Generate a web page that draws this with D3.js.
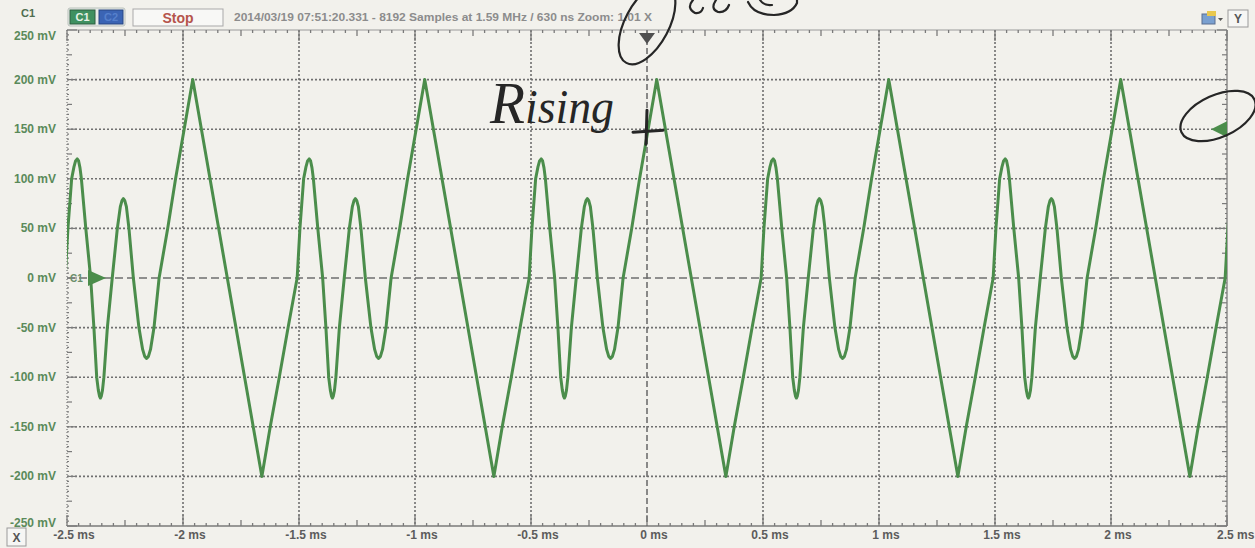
<!DOCTYPE html>
<html>
<head>
<meta charset="utf-8">
<script src="https://cdn.jsdelivr.net/npm/d3@7"></script>
<style>
  html, body { margin: 0; padding: 0; background: #f2f1ec; overflow: hidden; }
  svg { display: block; }
</style>
</head>
<body>
<svg id="scope" width="1255" height="548"></svg>
<script>
// ---- axis ticks ----
const timeTicks  = [-2.5, -2, -1.5, -1, -0.5, 0, 0.5, 1, 1.5, 2, 2.5];
const timeLabels = ["-2.5 ms", "-2 ms", "-1.5 ms", "-1 ms", "-0.5 ms", "0 ms", "0.5 ms", "1 ms", "1.5 ms", "2 ms", "2.5 ms"];
const voltTicks  = [250, 200, 150, 100, 50, 0, -50, -100, -150, -200, -250];
const voltLabels = ["250 mV", "200 mV", "150 mV", "100 mV", "50 mV", "0 mV", "-50 mV", "-100 mV", "-150 mV", "-200 mV", "-250 mV"];

// ---- channel C1 trace ----
// time (ms) of each 200 mV apex of the captured waveform
const cycleApex = [-2.958, -1.958, -0.958, 0.042, 1.042, 2.042];
// one period after the apex: time offset (ms) and level (mV)
const cycleTime = [0, 0.298, 0.334, 0.373, 0.411, 0.450, 0.462, 0.478, 0.488, 0.495, 0.502, 0.508, 0.514, 0.520,
                   0.539, 0.560, 0.574, 0.586, 0.593, 0.598, 0.602, 0.606, 0.611, 0.617, 0.632, 0.653,
                   0.675, 0.688, 0.695, 0.701, 0.707, 0.714, 0.725, 0.744, 0.768, 0.784, 0.793, 0.801,
                   0.809, 0.818, 0.833, 0.855, 0.892, 0.926, 0.963];
const cycleMv   = [200, -200, -150, -100, -50, 0, 50, 100, 112, 118, 120, 118, 111, 100,
                   50, 0, -50, -100, -113, -119, -121, -119, -113, -100, -50, 0,
                   50, 72, 78, 80, 78, 72, 50, 0, -50, -72, -79, -81,
                   -79, -72, -50, 0, 50, 100, 150];

// ---- markers & status ----
const triggerTime  = 0;     // ms
const triggerLevel = 150;   // mV
const groundLevel  = 0;     // mV
const headerText   = "2014/03/19 07:51:20.331 - 8192 Samples at 1.59 MHz / 630 ns Zoom: 1.01 X";

// ---- layout ----
const svg = d3.select("#scope");
const plot = { left: 67, right: 1227, top: 30, bottom: 526 };
const x = d3.scaleLinear().domain([-2.5, 2.5]).range([plot.left, plot.right]);
const y = d3.scaleLinear().domain([-250, 250]).range([plot.bottom, plot.top]);

const traceColor = "#4b8d4b";
const gridColor = "#6f6f6f";
const labelFont = "'Liberation Sans', Arial, sans-serif";

svg.append("rect").attr("width", 1255).attr("height", 548).attr("fill", "#f2f1ec");

// ---- grid ----
const grid = svg.append("g");
voltTicks.filter(v => v !== 250 && v !== -250).forEach(v => {
  grid.append("line")
    .attr("x1", plot.left).attr("x2", plot.right)
    .attr("y1", y(v)).attr("y2", y(v))
    .attr("stroke", gridColor).attr("stroke-width", 1.6)
    .attr("stroke-dasharray", v === 0 ? "8,4" : "2,2");
});
timeTicks.filter(t => t !== -2.5 && t !== 2.5).forEach(t => {
  grid.append("line")
    .attr("x1", x(t)).attr("x2", x(t))
    .attr("y1", plot.top).attr("y2", plot.bottom)
    .attr("stroke", gridColor).attr("stroke-width", 1.6)
    .attr("stroke-dasharray", t === 0 ? "6,3" : "2,2");
});

// ---- frame and tick rulers ----
const frame = svg.append("g").attr("stroke", "#7a7a7a");
frame.append("line").attr("x1", plot.left).attr("x2", plot.right).attr("y1", plot.top).attr("y2", plot.top)
  .attr("stroke-width", 1).attr("stroke", "#9a9a9a");
frame.append("line").attr("x1", plot.left).attr("x2", plot.right).attr("y1", plot.bottom).attr("y2", plot.bottom)
  .attr("stroke-width", 1.3);
frame.append("line").attr("x1", plot.right).attr("x2", plot.right).attr("y1", plot.top).attr("y2", plot.bottom)
  .attr("stroke-width", 1.3);
frame.append("line").attr("x1", plot.left).attr("x2", plot.left).attr("y1", plot.top).attr("y2", plot.bottom)
  .attr("stroke-width", 1.2).attr("stroke-dasharray", "1,2");

// horizontal rulers: every 0.05 ms, longer at 0.25 ms and 0.5 ms
d3.range(0, 101).forEach(i => {
  const t = -2.5 + i * 0.05;
  const len = i % 10 === 0 ? 11 : (i % 5 === 0 ? 6 : 3);
  frame.append("line").attr("x1", x(t)).attr("x2", x(t))
    .attr("y1", plot.top).attr("y2", plot.top + len).attr("stroke-width", 1.3);
  frame.append("line").attr("x1", x(t)).attr("x2", x(t))
    .attr("y1", plot.bottom).attr("y2", plot.bottom - len).attr("stroke-width", 1.3);
});
// vertical rulers: every 5 mV, longer at 25 mV and 50 mV
d3.range(0, 101).forEach(i => {
  const v = -250 + i * 5;
  const len = i % 10 === 0 ? 10 : (i % 5 === 0 ? 5 : 2);
  frame.append("line").attr("x1", plot.left).attr("x2", plot.left + len)
    .attr("y1", y(v)).attr("y2", y(v)).attr("stroke-width", 1.2);
  frame.append("line").attr("x1", plot.right).attr("x2", plot.right - len)
    .attr("y1", y(v)).attr("y2", y(v)).attr("stroke-width", 1.2);
});

// ---- axis labels ----
voltTicks.forEach((v, i) => {
  let by = y(v) + 4;
  if (v === 250) by = y(v) + 10;
  if (v === -250) by = y(v) + 1;
  svg.append("text").attr("x", 56).attr("y", by)
    .attr("text-anchor", "end").attr("font-family", labelFont)
    .attr("font-weight", "bold").attr("font-size", 12)
    .attr("fill", "#5a8a5a").text(voltLabels[i]);
});
timeTicks.forEach((t, i) => {
  const last = i === timeTicks.length - 1;
  svg.append("text")
    .attr("x", last ? 1217 : x(t) + 7).attr("y", 539)
    .attr("text-anchor", last ? "start" : "middle")
    .attr("font-family", labelFont).attr("font-weight", "bold").attr("font-size", 12)
    .attr("fill", "#5c5c5c").text(timeLabels[i]);
});

// ---- trace ----
svg.append("clipPath").attr("id", "plotClip").append("rect")
  .attr("x", plot.left).attr("y", plot.top - 5)
  .attr("width", plot.right - plot.left).attr("height", plot.bottom - plot.top + 10);

const tracePoints = [];
cycleApex.forEach(apex => {
  cycleTime.forEach((dt, k) => tracePoints.push([apex + dt, cycleMv[k]]));
});
const line = d3.line().x(d => x(d[0])).y(d => y(d[1])).curve(d3.curveLinear);
svg.append("path").datum(tracePoints)
  .attr("clip-path", "url(#plotClip)")
  .attr("d", line)
  .attr("fill", "none").attr("stroke", traceColor)
  .attr("stroke-width", 3).attr("stroke-linejoin", "round");

// ---- markers ----
const tx = x(triggerTime);
svg.append("path")
  .attr("d", `M${tx - 8},${plot.top + 3} L${tx + 8},${plot.top + 3} L${tx},${plot.top + 14} Z`)
  .attr("fill", "#4f4f4f");
const ty = y(triggerLevel);
svg.append("path")
  .attr("d", `M${plot.right},${ty - 8} L${plot.right},${ty + 8} L${plot.right - 16},${ty} Z`)
  .attr("fill", traceColor);
const gy = y(groundLevel);
svg.append("text").attr("x", 70).attr("y", gy + 4)
  .attr("font-family", labelFont).attr("font-weight", "bold").attr("font-size", 10)
  .attr("fill", "#6b8f6b").text("C1");
svg.append("path")
  .attr("d", `M88,${gy - 8} L88,${gy + 8} L106,${gy} Z`)
  .attr("fill", traceColor);

// ---- toolbar ----
svg.append("text").attr("x", 28).attr("y", 17).attr("text-anchor", "middle")
  .attr("font-family", labelFont).attr("font-weight", "bold").attr("font-size", 11)
  .attr("fill", "#4f6d4f").text("C1");

svg.append("rect").attr("x", 68).attr("y", 8).attr("width", 57).attr("height", 18)
  .attr("fill", "#e9ece9").attr("stroke", "#b9c0bb").attr("rx", 2);
svg.append("rect").attr("x", 70).attr("y", 10).attr("width", 25).attr("height", 14)
  .attr("fill", "#3f9060").attr("stroke", "#2e5f40");
svg.append("text").attr("x", 82.5).attr("y", 21).attr("text-anchor", "middle")
  .attr("font-family", labelFont).attr("font-weight", "bold").attr("font-size", 11)
  .attr("fill", "#e6f2e6").text("C1");
svg.append("rect").attr("x", 99).attr("y", 10).attr("width", 24).attr("height", 14)
  .attr("fill", "#3b64b4").attr("stroke", "#2a4782");
svg.append("text").attr("x", 111).attr("y", 21).attr("text-anchor", "middle")
  .attr("font-family", labelFont).attr("font-weight", "bold").attr("font-size", 11)
  .attr("fill", "#5680cc").text("C2");

svg.append("rect").attr("x", 133).attr("y", 9).attr("width", 90).attr("height", 17)
  .attr("fill", "#f8f8f6").attr("stroke", "#a9a9a9");
svg.append("text").attr("x", 178).attr("y", 22.5).attr("text-anchor", "middle")
  .attr("font-family", labelFont).attr("font-weight", "bold").attr("font-size", 14)
  .attr("fill", "#b5544b").text("Stop");

svg.append("text").attr("x", 234).attr("y", 21)
  .attr("font-family", labelFont).attr("font-weight", "bold").attr("font-size", 11)
  .attr("textLength", 418).attr("lengthAdjust", "spacingAndGlyphs")
  .attr("fill", "#8c8c8c").text(headerText);

// right-hand buttons
svg.append("rect").attr("x", 1202).attr("y", 14).attr("width", 13).attr("height", 10)
  .attr("fill", "#7aa0d0").attr("stroke", "#5a6f90");
svg.append("rect").attr("x", 1207).attr("y", 11).attr("width", 9).attr("height", 5)
  .attr("fill", "#e8c850");
svg.append("path").attr("d", "M1218,18 L1223,18 L1220.5,21 Z").attr("fill", "#555");
svg.append("rect").attr("x", 1228).attr("y", 10).attr("width", 20).attr("height", 17)
  .attr("fill", "#f6f6f4").attr("stroke", "#9a9a9a");
svg.append("text").attr("x", 1238).attr("y", 23).attr("text-anchor", "middle")
  .attr("font-family", labelFont).attr("font-weight", "bold").attr("font-size", 12)
  .attr("fill", "#555").text("Y");

svg.append("rect").attr("x", 7).attr("y", 528).attr("width", 19).attr("height", 18)
  .attr("fill", "#f6f6f4").attr("stroke", "#9a9a9a");
svg.append("text").attr("x", 16.5).attr("y", 542).attr("text-anchor", "middle")
  .attr("font-family", labelFont).attr("font-weight", "bold").attr("font-size", 12)
  .attr("fill", "#555").text("X");

// ---- pen notes ----
const ink = "#262626";
const notes = svg.append("g").attr("fill", "none").attr("stroke", ink)
  .attr("stroke-width", 2.2).attr("stroke-linecap", "round");
notes.append("ellipse").attr("cx", 647).attr("cy", 24).attr("rx", 22).attr("ry", 44)
  .attr("transform", "rotate(28,647,24)");
notes.append("ellipse").attr("cx", 1218).attr("cy", 116).attr("rx", 40).attr("ry", 21)
  .attr("transform", "rotate(-24,1218,116)");
notes.append("path").attr("d", `M${tx - 14},${y(150) + 3} L${tx + 16},${y(150) + 1}`).attr("stroke-width", 3);
notes.append("path").attr("d", `M${tx},${y(150) - 19} L${tx - 1},${y(150) + 15}`).attr("stroke-width", 3);
// lower ends of pen strokes running off the top edge
notes.append("path").attr("d", "M693,0 Q686,8 695,13 Q701,14 703,8");
notes.append("path").attr("d", "M716,0 Q710,9 718,12 Q726,13 729,5");
notes.append("path").attr("d", "M748,2 Q754,15 774,15 Q792,14 797,3 L797,0");
notes.append("path").attr("d", "M760,0 Q764,6 772,5");

svg.append("text").attr("x", 490).attr("y", 123)
  .attr("font-family", "'Liberation Serif', 'DejaVu Serif', serif").attr("font-style", "italic")
  .attr("textLength", 124).attr("lengthAdjust", "spacingAndGlyphs")
  .attr("fill", ink)
  .call(t => {
    t.append("tspan").attr("font-size", 60).text("R");
    t.append("tspan").attr("font-size", 48).text("ising");
  });
</script>
</body>
</html>
